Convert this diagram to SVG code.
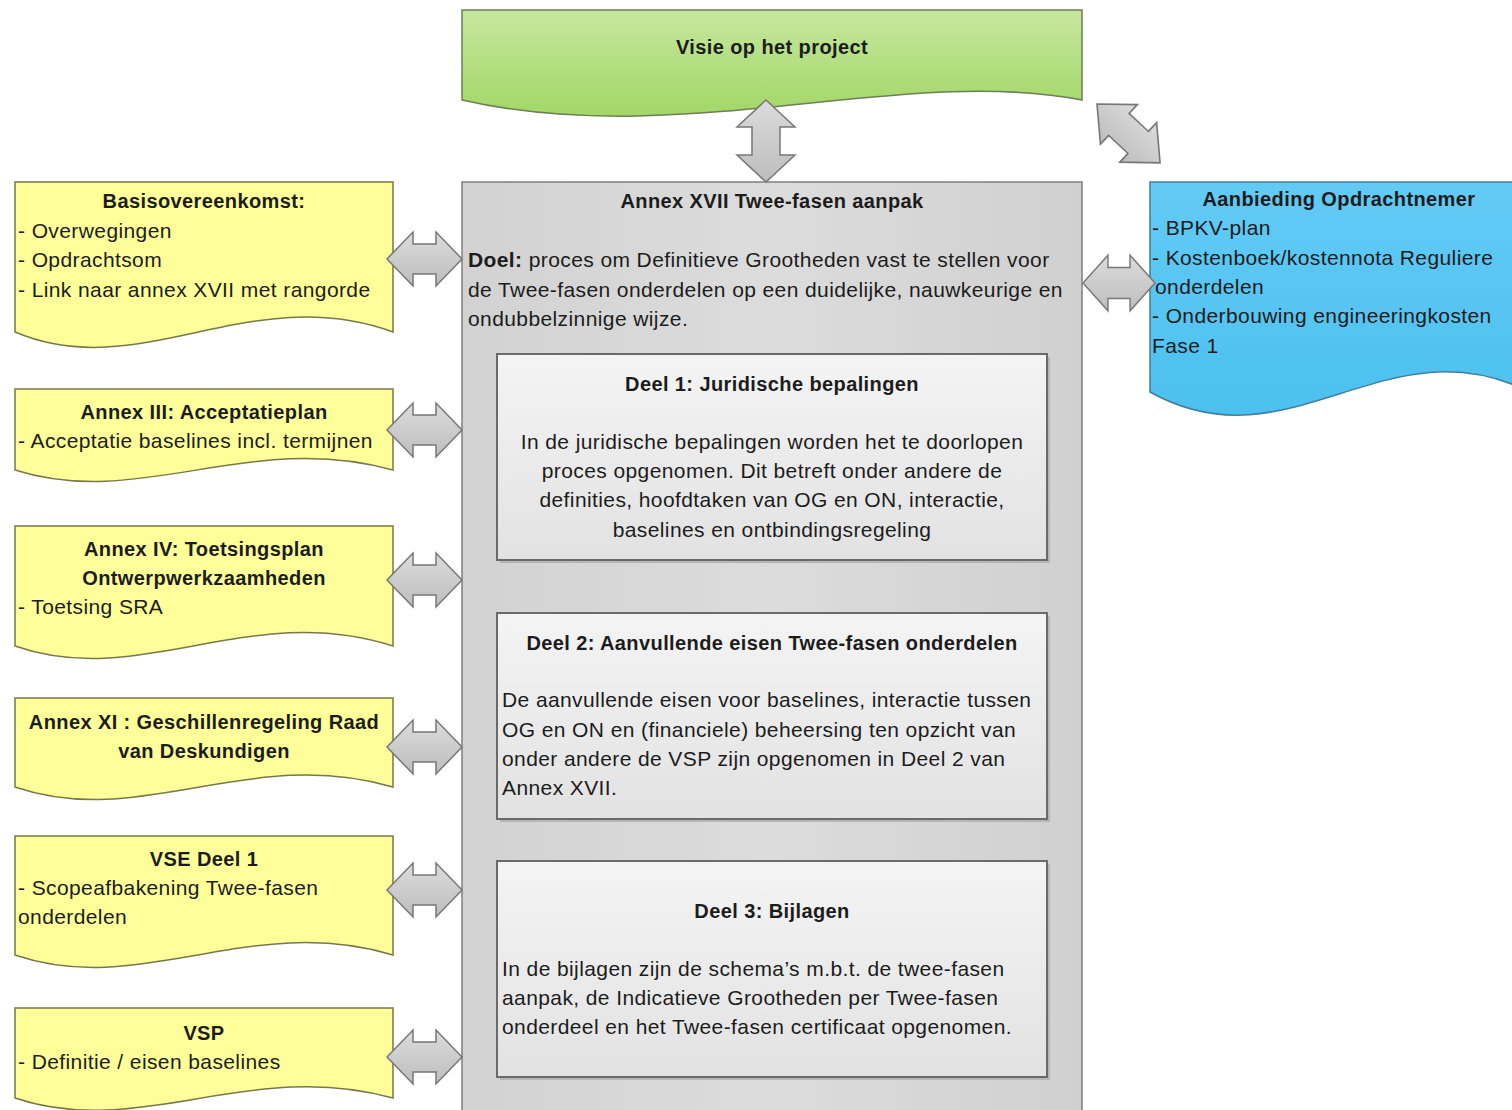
<svg xmlns="http://www.w3.org/2000/svg" width="1512" height="1110" viewBox="0 0 1512 1110">
<defs>
<linearGradient id="gGreen" x1="0" y1="0" x2="0" y2="1"><stop offset="0" stop-color="#c6e79e"/><stop offset="1" stop-color="#a2d766"/></linearGradient>
<linearGradient id="gGray" x1="0" y1="0" x2="1" y2="0"><stop offset="0" stop-color="#d2d2d2"/><stop offset="0.5" stop-color="#dcdcdc"/><stop offset="1" stop-color="#d0d0d0"/></linearGradient>
<linearGradient id="gInner" x1="0" y1="0" x2="0" y2="1"><stop offset="0" stop-color="#f4f4f4"/><stop offset="1" stop-color="#e2e2e2"/></linearGradient>
<linearGradient id="gBlue" x1="0" y1="0" x2="0" y2="1"><stop offset="0" stop-color="#62cbf5"/><stop offset="1" stop-color="#4cc0ef"/></linearGradient>
<linearGradient id="gArrow" x1="0" y1="0" x2="0" y2="1"><stop offset="0" stop-color="#dcdcdc"/><stop offset="1" stop-color="#bdbdbd"/></linearGradient>
<path id="harrow" d="M0,0 L26,-27 L26,-15 L49,-15 L49,-27 L75,0 L49,27 L49,15 L26,15 L26,27 Z"/>
</defs>
<style>
text{font-family:"Liberation Sans",Arial,sans-serif;font-size:21px;letter-spacing:0.4px;fill:#1c1c1c}
.b{font-weight:bold;font-size:20px}
tspan.b{font-size:21px}
.c{text-anchor:middle}
.yel{fill:#ffff99;stroke:#77774a;stroke-width:1.5}
.arr{fill:url(#gArrow);stroke:#777;stroke-width:1.5}
.inner{fill:url(#gInner);stroke:#6a6a6a;stroke-width:2}
.shadow{fill:#b5b5b5}
</style>
<rect width="1512" height="1110" fill="#ffffff"/>

<g id="visie">
<path d="M462,10 H1082 V100 C900,65 680,150 462,100 Z" fill="url(#gGreen)" stroke="#6e7e55" stroke-width="1.5"/>
<text x="772" y="54" class="b c">Visie op het project</text>
</g>

<g id="annex17">
<rect x="462" y="182" width="620" height="940" fill="url(#gGray)" stroke="#7f7f7f" stroke-width="1.5"/>
<text x="772" y="208" class="b c">Annex XVII Twee-fasen aanpak</text>
<text x="468" y="267"><tspan class="b">Doel:</tspan> proces om Definitieve Grootheden vast te stellen voor</text>
<text x="468" y="297">de Twee-fasen onderdelen op een duidelijke, nauwkeurige en</text>
<text x="468" y="326">ondubbelzinnige wijze.</text>
</g>

<g id="deel1">
<rect x="500" y="357" width="550" height="206" class="shadow"/>
<rect x="497" y="354" width="550" height="206" class="inner"/>
<text x="772" y="391" class="b c">Deel 1: Juridische bepalingen</text>
<text x="772" y="449" class="c">In de juridische bepalingen worden het te doorlopen</text>
<text x="772" y="478" class="c">proces opgenomen. Dit betreft onder andere de</text>
<text x="772" y="507" class="c">definities, hoofdtaken van OG en ON, interactie,</text>
<text x="772" y="537" class="c">baselines en ontbindingsregeling</text>
</g>

<g id="deel2">
<rect x="500" y="616" width="550" height="206" class="shadow"/>
<rect x="497" y="613" width="550" height="206" class="inner"/>
<text x="772" y="650" class="b c">Deel 2: Aanvullende eisen Twee-fasen onderdelen</text>
<text x="502" y="707">De aanvullende eisen voor baselines, interactie tussen</text>
<text x="502" y="737">OG en ON en (financiele) beheersing ten opzicht van</text>
<text x="502" y="766">onder andere de VSP zijn opgenomen in Deel 2 van</text>
<text x="502" y="795">Annex XVII.</text>
</g>

<g id="deel3">
<rect x="500" y="864" width="550" height="216" class="shadow"/>
<rect x="497" y="861" width="550" height="216" class="inner"/>
<text x="772" y="918" class="b c">Deel 3: Bijlagen</text>
<text x="502" y="976">In de bijlagen zijn de schema’s m.b.t. de twee-fasen</text>
<text x="502" y="1005">aanpak, de Indicatieve Grootheden per Twee-fasen</text>
<text x="502" y="1034">onderdeel en het Twee-fasen certificaat opgenomen.</text>
</g>

<g id="basisovereenkomst">
<path class="yel" d="M15,182 H393 V332 C249,280 140,385 15,332 Z"/>
<text x="204" y="208" class="b c">Basisovereenkomst:</text>
<text x="18" y="238">- Overwegingen</text>
<text x="18" y="267">- Opdrachtsom</text>
<text x="18" y="297">- Link naar annex XVII met rangorde</text>
</g>

<g id="annex3">
<path class="yel" d="M15,389 H393 V470 C249,430 140,510 15,470 Z"/>
<text x="204" y="419" class="b c">Annex III: Acceptatieplan</text>
<text x="18" y="448">- Acceptatie baselines incl. termijnen</text>
</g>

<g id="annex4">
<path class="yel" d="M15,526 H393 V646 C249,600 140,690 15,646 Z"/>
<text x="204" y="556" class="b c">Annex IV: Toetsingsplan</text>
<text x="204" y="585" class="b c">Ontwerpwerkzaamheden</text>
<text x="18" y="614">- Toetsing SRA</text>
</g>

<g id="annex11">
<path class="yel" d="M15,698 H393 V787 C249,745 140,830 15,787 Z"/>
<text x="204" y="729" class="b c">Annex XI : Geschillenregeling Raad</text>
<text x="204" y="758" class="b c">van Deskundigen</text>
</g>

<g id="vse">
<path class="yel" d="M15,836 H393 V955 C249,912 140,998 15,955 Z"/>
<text x="204" y="866" class="b c">VSE Deel 1</text>
<text x="18" y="895">- Scopeafbakening Twee-fasen</text>
<text x="18" y="924">onderdelen</text>
</g>

<g id="vsp">
<path class="yel" d="M15,1008 H393 V1098 C249,1058 140,1140 15,1098 Z"/>
<text x="204" y="1040" class="b c">VSP</text>
<text x="18" y="1069">- Definitie / eisen baselines</text>
</g>

<g id="aanbieding">
<path d="M1150,182 H1530 V392 C1385,320 1290,470 1150,392 Z" fill="url(#gBlue)" stroke="#3e7fa0" stroke-width="1.5"/>
<text x="1339" y="206" class="b c">Aanbieding Opdrachtnemer</text>
<text x="1152" y="235">- BPKV-plan</text>
<text x="1152" y="265">- Kostenboek/kostennota Reguliere</text>
<text x="1155" y="294">onderdelen</text>
<text x="1152" y="323">- Onderbouwing engineeringkosten</text>
<text x="1152" y="353">Fase 1</text>
</g>

<g id="connectors">
<path class="arr" d="M766,100 L795,127 L780,127 L780,155 L795,155 L766,182 L737,155 L752,155 L752,127 L737,127 Z"/>
<use href="#harrow" class="arr" transform="translate(1097,104) rotate(43) scale(1.15,1)"/>
<use href="#harrow" class="arr" transform="translate(1083,283) scale(0.96,1.03)"/>
<use href="#harrow" class="arr" transform="translate(387,259)"/>
<use href="#harrow" class="arr" transform="translate(387,430)"/>
<use href="#harrow" class="arr" transform="translate(387,580)"/>
<use href="#harrow" class="arr" transform="translate(387,747)"/>
<use href="#harrow" class="arr" transform="translate(387,890)"/>
<use href="#harrow" class="arr" transform="translate(387,1057)"/>
</g>
</svg>
